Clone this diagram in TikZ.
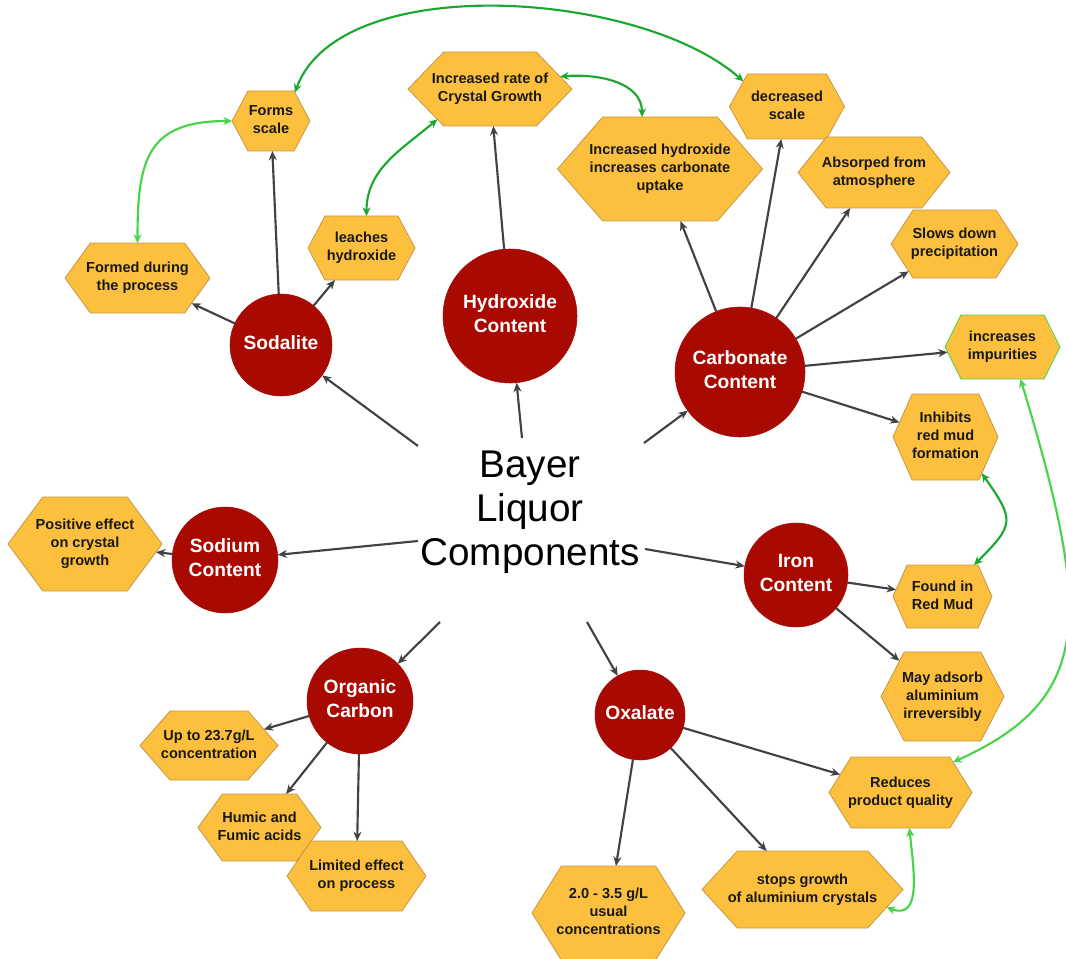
\documentclass[tikz,border=0pt]{standalone}
\usepackage{fontspec}
\setmainfont{Liberation Sans}
\usetikzlibrary{shapes.symbols,arrows.meta,calc}
\definecolor{hexfill}{RGB}{252,192,62}
\definecolor{hexdraw}{RGB}{196,152,72}
\definecolor{circ}{RGB}{168,10,2}
\definecolor{arrgray}{RGB}{66,66,70}
\definecolor{gdark}{RGB}{28,168,48}
\definecolor{glight}{RGB}{72,212,72}
\newcommand\hl[1]{\makebox[0pt]{\begin{tabular}{@{}c@{}}#1\end{tabular}}}
\newcommand\hexfont{\fontsize{10.9pt}{13.5pt}\selectfont\bfseries}
\newcommand\circfont{\fontsize{14.4pt}{18pt}\selectfont\bfseries}
\newcommand\bigfont{\fontsize{29pt}{33pt}\selectfont}
\tikzset{
  hx/.style n args={3}{shape=signal, signal from=nowhere, signal to=east and west,
    signal pointer angle=#3, minimum width=#1*0.75pt, minimum height=#2*0.75pt,
    inner sep=0pt, outer sep=0pt, fill=hexfill, draw=hexdraw, line width=0.6pt,
    font=\hexfont, text=black!90},
  cn/.style={circle, fill=circ, draw=circ, minimum size=#1*1.5pt, inner sep=0pt,
    outer sep=0pt, text=white, font=\circfont},
  arr/.style={draw=arrgray, line width=1.6pt, -{Stealth[length=7pt,width=6pt]}},
  gdk/.style={draw=gdark, line width=1.6pt,
    {Stealth[length=6.5pt,width=6pt]}-{Stealth[length=6.5pt,width=6pt]}},
  glt/.style={draw=glight, line width=1.6pt,
    {Stealth[length=6.5pt,width=6pt]}-{Stealth[length=6.5pt,width=6pt]}},
}
\begin{document}
\begin{tikzpicture}[x=0.75pt,y=-0.75pt]
\path[use as bounding box, fill=white] (0,0) rectangle (1066,959);

% centre
\node[minimum width=226*0.75pt, minimum height=182*0.75pt, inner sep=0pt,
  font=\bigfont, align=center] (bl) at (530,512) {Bayer\\Liquor\\Components};

% circles
\node[cn=51] (sod) at (281,345) {\hl{Sodalite}};
\node[cn=67] (hyd) at (510,316) {\hl{Hydroxide\\Content}};
\node[cn=65] (car) at (740,372) {\hl{Carbonate\\Content}};
\node[cn=53] (sdm) at (225,560) {\hl{Sodium\\Content}};
\node[cn=53] (org) at (360,701) {\hl{Organic\\Carbon}};
\node[cn=45] (oxa) at (640,715) {\hl{Oxalate}};
\node[cn=52] (iro) at (796,575) {\hl{Iron\\Content}};

% hexagons
\node[hx={78}{60}{124}] (fs) at (271,121) {\hl{Forms\\scale}};
\node[hx={145}{70}{108}] (fdp) at (137.5,278) {\hl{Formed during\\the process}};
\node[hx={107}{64}{124}] (lh) at (361.5,248) {\hl{leaches\\hydroxide}};
\node[hx={164}{74}{92}] (irc) at (490,89) {\hl{Increased rate of\\Crystal Growth}};
\node[hx={205}{104}{98}] (ihc) at (660,169) {\hl{Increased hydroxide\\increases carbonate\\uptake}};
\node[hx={115}{65}{122}] (ds) at (787,106.5) {\hl{decreased\\scale}};
\node[hx={152}{71}{103}] (afa) at (874,172.5) {\hl{Absorped from\\atmosphere}};
\node[hx={127}{68}{114}] (sdp) at (954.5,244) {\hl{Slows down\\precipitation}};
\node[hx={115}{64}{127}, draw=glight] (ii) at (1002.5,347) {\hl{increases\\impurities}};
\node[hx={105}{86}{132}] (irm) at (945.5,437) {\hl{Inhibits\\red mud\\formation}};
\node[hx={99}{63}{132}] (frm) at (942.5,596.5) {\hl{Found in\\Red Mud}};
\node[hx={123}{89}{125}] (maa) at (942.5,696.5) {\hl{May adsorb\\aluminium\\irreversibly}};
\node[hx={143}{71}{116}] (rpq) at (900.5,792.5) {\hl{Reduces\\product quality}};
\node[hx={201}{77}{95}] (sg) at (802.5,889.5) {\hl{stops growth\\of aluminium crystals}};
\node[hx={153}{94}{116}] (con) at (608.5,913) {\hl{2.0 - 3.5 g/L\\usual\\concentrations}};
\node[hx={154}{94}{107}] (pe) at (85,544) {\hl{Positive effect\\on crystal\\growth}};
\node[hx={138}{69}{98}] (up) at (209,745.5) {\hl{Up to 23.7g/L\\concentration}};
\node[hx={123}{67}{108}] (hf) at (259.5,827.5) {\hl{Humic and\\Fumic acids}};
\node[hx={139}{70}{111}] (le) at (356.5,876) {\hl{Limited effect\\on process}};

% centre to circles
\draw[arr] ($(bl)+(-112,-66)$) -- (sod);
\draw[arr] ($(bl)+(-8,-74)$) -- (hyd);
\draw[arr] ($(bl)+(114,-69)$) -- (car);
\draw[arr] ($(bl)+(-112,29)$) -- (sdm);
\draw[arr] ($(bl)+(115,37)$) -- (iro);
\draw[arr] ($(bl)+(-90,110)$) -- (org);
\draw[arr] ($(bl)+(57,110)$) -- (oxa);

% circles to hexagons
\draw[arr] (sod) -- (fs);
\draw[arr] (sod) -- (fdp);
\draw[arr] (sod) -- (lh);
\draw[arr] (hyd) -- (irc);
\draw[arr] (car) -- (ihc);
\draw[arr] (car) -- (ds);
\draw[arr] (car) -- (afa);
\draw[arr] (car) -- (sdp);
\draw[arr] (car) -- (ii);
\draw[arr] (car) -- (irm);
\draw[arr] (sdm) -- (pe);
\draw[arr] (iro) -- (frm);
\draw[arr] (iro) -- (maa);
\draw[arr] (org) -- (up);
\draw[arr] (org) -- (hf);
\draw[arr] (org) -- (le);
\draw[arr] (oxa) -- (rpq);
\draw[arr] (oxa) -- (sg);
\draw[arr] (oxa) -- (con);

% green links
\draw[glt] (fdp.north) to[out=90,in=180,looseness=1.4] (fs.west);
\draw[gdk] ($(lh.north)+(5,0)$) to[out=90,in=220] (irc.210);
\draw[gdk] (irc.10) to[out=5,in=90] ($(ihc.north)+(-18,0)$);
\draw[gdk] (fs.50) .. controls (340,-30) and (640,-10) .. (ds.150);
\draw[gdk] (irm.-45) to[out=-55,in=45,looseness=1.6] (frm.45);
\draw[glt] ($(ii.south)+(18,0)$) .. controls (1093,618) and (1093,699) .. (rpq.30);
\draw[glt] ($(rpq.south)+(9,0)$) to[out=-85,in=-20,looseness=1.2] (sg.-12);
\end{tikzpicture}
\end{document}
